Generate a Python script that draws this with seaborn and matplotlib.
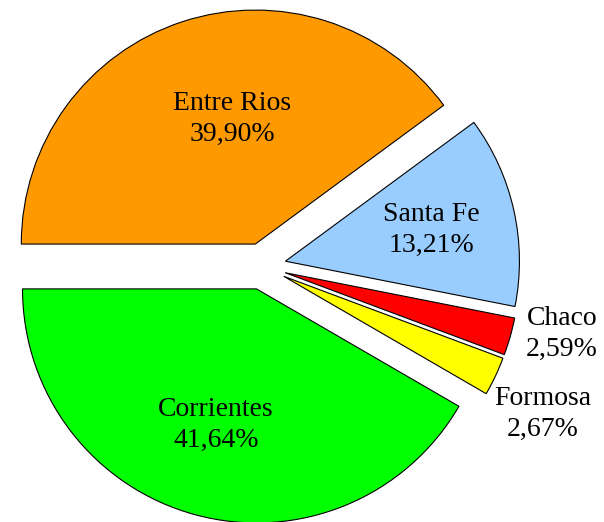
import matplotlib
matplotlib.use("Agg")
import matplotlib.pyplot as plt
import seaborn as sns

provinces = ["Entre Rios", "Santa Fe", "Chaco", "Formosa", "Corrientes"]
shares = [39.90, 13.21, 2.59, 2.67, 41.64]
pct_labels = ["39,90%", "13,21%", "2,59%", "2,67%", "41,64%"]
colors = ["#FF9900", "#99CCFF", "#FF0000", "#FFFF00", "#00FF00"]

sns.set_theme(style="white")
plt.rcParams["font.family"] = ["Liberation Serif", "DejaVu Serif"]

fig = plt.figure(figsize=(6.04, 5.22), dpi=100)
ax = fig.add_axes([0, 0, 1, 1])
ax.axis("off")

wedges, _ = ax.pie(
    shares,
    colors=colors,
    startangle=180,
    counterclock=False,
    explode=[0.1] * len(shares),
    radius=1.0,
    wedgeprops=dict(edgecolor="black", linewidth=0.8),
)

# px scale: 234 px per unit, pie center at (262.6, 266.3) px
s = 234.0
cx, cy = 262.6, 266.3
ax.set_xlim(-cx / s, (604 - cx) / s)
ax.set_ylim(-(522 - cy) / s, cy / s)
ax.set_aspect("auto")

label_pos = {
    "Entre Rios": (232, 119),
    "Santa Fe": (431, 230),
    "Chaco": (562, 334),
    "Formosa": (543, 414),
    "Corrientes": (216, 425),
}
for name, pct in zip(provinces, pct_labels):
    px, py = label_pos[name]
    ax.text((px - cx) / s, (cy - py) / s, f"{name}\n{pct}",
            ha="center", va="center", fontsize=20, linespacing=1.3,
            color="black")

fig.savefig("out.png", dpi=100)
